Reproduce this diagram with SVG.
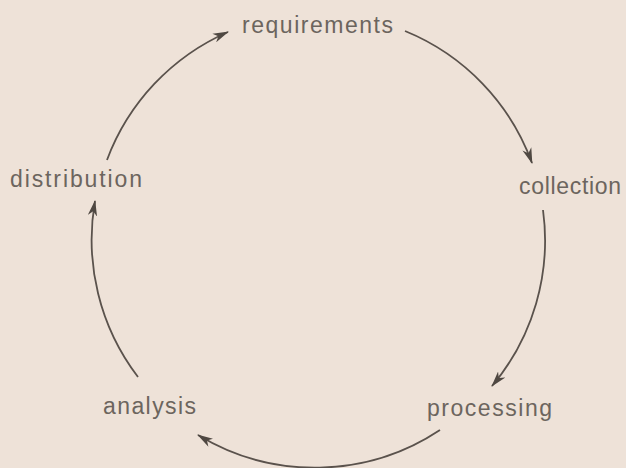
<svg xmlns="http://www.w3.org/2000/svg" width="626" height="468" viewBox="0 0 626 468">
  <defs>
    <marker id="ah" viewBox="0 0 16 10" markerWidth="16" markerHeight="10" refX="15" refY="5" orient="auto" markerUnits="userSpaceOnUse">
      <path d="M0,0.3 L16,5 L0,9.7 L4.5,5 z" fill="#4f4842"/>
    </marker>
  </defs>
  <style>
    .lbl { font-family: "Liberation Sans", Arial, Helvetica, sans-serif; font-size: 23px; fill: #6c655e; }
    .arc { fill: none; stroke: #5a524c; stroke-width: 1.8; marker-end: url(#ah); }
  </style>
  <rect width="626" height="468" fill="#eee2d8"/>
  <g id="connectors">
    <path class="arc" d="M405,31 A226,226 0 0,1 532,163"/>
    <path class="arc" d="M543,210 A226,226 0 0,1 492,386"/>
    <path class="arc" d="M440,430 A226,226 0 0,1 198,435"/>
    <path class="arc" d="M138,377 A226,226 0 0,1 95,201"/>
    <path class="arc" d="M107,160 A226,226 0 0,1 228,32"/>
  </g>
  <g id="requirements"><text class="lbl" x="242" y="33" textLength="151" lengthAdjust="spacing">requirements</text></g>
  <g id="collection"><text class="lbl" x="519" y="194" textLength="102" lengthAdjust="spacing">collection</text></g>
  <g id="processing"><text class="lbl" x="427" y="416" textLength="125" lengthAdjust="spacing">processing</text></g>
  <g id="analysis"><text class="lbl" x="103" y="414" textLength="93" lengthAdjust="spacing">analysis</text></g>
  <g id="distribution"><text class="lbl" x="10" y="187" textLength="132" lengthAdjust="spacing">distribution</text></g>
</svg>
